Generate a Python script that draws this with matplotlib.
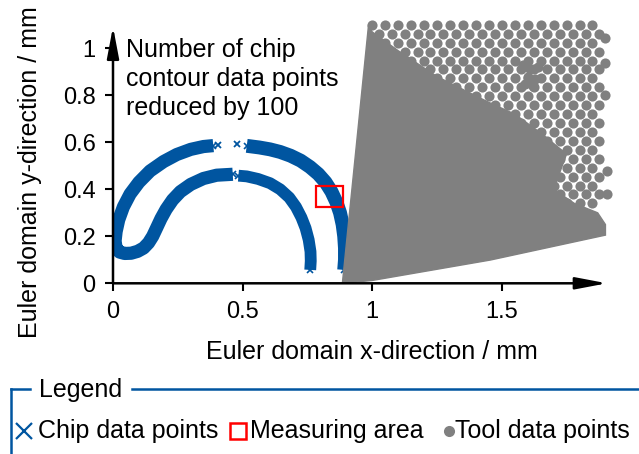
import matplotlib.pyplot as plt
from matplotlib.patches import Rectangle, Polygon
from matplotlib.lines import Line2D

plt.rcParams['font.family'] = ['Liberation Sans', 'DejaVu Sans']

BLUE = '#0055a0'
GREY = '#808080'

# chip contour (mm), traced along the middle of the point band
chip_outer_x = [0.892, 0.895, 0.895, 0.892, 0.886, 0.876, 0.862, 0.843, 0.820, 0.792,
                0.760, 0.724, 0.685, 0.645, 0.606, 0.565, 0.516]
chip_outer_y = [0.057, 0.100, 0.150, 0.200, 0.250, 0.300, 0.345, 0.390, 0.430, 0.465,
                0.495, 0.522, 0.543, 0.559, 0.570, 0.578, 0.585]

chip_loop_x = [0.387, 0.349, 0.300, 0.246, 0.195, 0.143, 0.100, 0.066, 0.040, 0.022,
               0.012, 0.008, 0.012, 0.025, 0.045, 0.070, 0.095, 0.118, 0.137, 0.153,
               0.168, 0.185, 0.205, 0.230, 0.260, 0.300, 0.349, 0.400, 0.462]
chip_loop_y = [0.586, 0.582, 0.570, 0.548, 0.518, 0.478, 0.430, 0.380, 0.325, 0.270,
               0.220, 0.180, 0.150, 0.133, 0.127, 0.128, 0.136, 0.150, 0.172, 0.200,
               0.235, 0.275, 0.315, 0.355, 0.390, 0.421, 0.446, 0.460, 0.464]

chip_inner_x = [0.484, 0.516, 0.560, 0.606, 0.645, 0.680, 0.706, 0.727, 0.743, 0.755,
                0.762, 0.763, 0.761]
chip_inner_y = [0.458, 0.455, 0.444, 0.426, 0.400, 0.365, 0.325, 0.280, 0.235, 0.185,
                0.135, 0.095, 0.057]

chip_single_x = [0.407, 0.477]
chip_single_y = [0.588, 0.591]

# measuring area (mm)
meas_x, meas_y = 0.784, 0.323
meas_w, meas_h = 0.103, 0.091

# tool: densely meshed part (outline) and the coarser nodes around it
tool_edge_x = [0.885, 0.986, 1.000, 1.100, 1.250, 1.450, 1.550, 1.650, 1.750, 1.700,
               1.780, 1.870, 1.900, 1.900, 1.456, 1.000]
tool_edge_y = [0.000, 1.100, 1.070, 0.990, 0.880, 0.770, 0.720, 0.640, 0.550, 0.400,
               0.340, 0.300, 0.250, 0.205, 0.099, 0.012]

tool_cols_a = [1.00, 1.05, 1.10, 1.15, 1.20, 1.25, 1.30, 1.35, 1.40, 1.45,
               1.50, 1.55, 1.60, 1.65, 1.70, 1.75, 1.80, 1.85]
tool_cols_b = [1.025, 1.075, 1.125, 1.175, 1.225, 1.275, 1.325, 1.375, 1.425, 1.475,
               1.525, 1.575, 1.625, 1.675, 1.725, 1.775, 1.825, 1.875]
tool_rows_y = [1.100, 1.062, 1.024, 0.986, 0.948, 0.910, 0.872, 0.834, 0.796, 0.758,
               0.720, 0.682, 0.644, 0.606, 0.568, 0.530, 0.492, 0.454, 0.416, 0.378, 0.340]
tool_rows_start = [1.00, 1.00, 1.03, 1.07, 1.13, 1.19, 1.24, 1.30, 1.36, 1.42,
                   1.49, 1.55, 1.60, 1.64, 1.68, 1.70, 1.68, 1.66, 1.65, 1.69, 1.74]

tool_extra_x = [1.900, 1.900, 1.900, 1.905, 1.906, 1.58, 1.61, 1.64, 1.60, 1.63, 1.59, 1.62]
tool_extra_y = [1.043, 0.938, 0.800, 0.480, 0.379, 0.93, 0.91, 0.92, 0.88, 0.87, 0.85, 0.84]

x_ticks = [0, 0.5, 1, 1.5]
x_ticklabels = ['0', '0.5', '1', '1.5']
y_ticks = [0, 0.2, 0.4, 0.6, 0.8, 1]
y_ticklabels = ['0', '0.2', '0.4', '0.6', '0.8', '1']

W, H = 639, 454


def fp(x, y):
    # figure fraction from pixel position (origin top left)
    return x / W, 1 - y / H


fig = plt.figure(figsize=(W / 100, H / 100), dpi=100)
ax = fig.add_axes([113 / W, 1 - 283.3 / H, (607 - 113) / W, (283.3 - 26.7) / H])
ax.set_xlim(0, 1.906)
ax.set_ylim(0, 1.092)

# chip
band = dict(color=BLUE, ms=5, mew=1.2, solid_capstyle='butt',
            solid_joinstyle='round', zorder=2)
ax.plot(chip_outer_x, chip_outer_y, '-x', lw=10, **band)
ax.plot(chip_loop_x, chip_loop_y, '-x', lw=9.5, **band)
ax.plot(chip_inner_x, chip_inner_y, '-x', lw=8.5, **band)
ax.plot(chip_single_x, chip_single_y, 'x', color=BLUE, ms=5, mew=1.3, zorder=2)

# tool
ax.add_patch(Polygon(list(zip(tool_edge_x, tool_edge_y)), closed=True,
                     facecolor=GREY, edgecolor=GREY, lw=1, zorder=3, clip_on=False))
dots_x, dots_y = [], []
for i, (ry, start) in enumerate(zip(tool_rows_y, tool_rows_start)):
    cols = tool_cols_a if i % 2 == 0 else tool_cols_b
    for cx in cols:
        if cx >= start:
            dots_x.append(cx)
            dots_y.append(ry)
ax.plot(dots_x, dots_y, 'o', color=GREY, ms=7.3, mew=0, zorder=3, clip_on=False)
ax.plot(tool_extra_x, tool_extra_y, 'o', color=GREY, ms=7.3, mew=0, zorder=3, clip_on=False)

# measuring area
ax.add_patch(Rectangle((meas_x, meas_y), meas_w, meas_h, fill=False,
                       edgecolor='#ff0000', lw=1.6, zorder=4))

# axes drawn as arrows
for s in ax.spines.values():
    s.set_visible(False)
arrow = dict(arrowstyle='-|>,head_length=1.9,head_width=0.36', lw=1.8,
             color='black', shrinkA=0, shrinkB=0, mutation_scale=10)
ax.annotate('', xy=(1, 0), xytext=(0, 0), xycoords='axes fraction',
            arrowprops=arrow, annotation_clip=False, zorder=5)
ax.annotate('', xy=(0, 1), xytext=(0, 0), xycoords='axes fraction',
            arrowprops=arrow, annotation_clip=False, zorder=5)

ax.set_xticks(x_ticks)
ax.set_xticklabels(x_ticklabels)
ax.set_yticks(y_ticks)
ax.set_yticklabels(y_ticklabels)
ax.tick_params(direction='out', length=5.5, width=1.5, labelsize=17, pad=7)

fig.text(*fp(372, 352), 'Euler domain x-direction / mm', fontsize=18,
         ha='center', va='center')
fig.text(*fp(30, 172), 'Euler domain y-direction / mm', fontsize=18,
         ha='center', va='center', rotation=90)
fig.text(*fp(126, 38), 'Number of chip\ncontour data points\nreduced by 100',
         fontsize=18, ha='left', va='top', linespacing=1.25)

# legend frame
fig.add_artist(Line2D([11 / W, 30 / W], [1 - 389 / H] * 2, color=BLUE, lw=1.8,
                      transform=fig.transFigure))
fig.add_artist(Line2D([132 / W, 1], [1 - 389 / H] * 2, color=BLUE, lw=1.8,
                      transform=fig.transFigure))
fig.add_artist(Line2D([11 / W, 11 / W], [1 - 389 / H, 0], color=BLUE, lw=1.8,
                      transform=fig.transFigure))
fig.text(*fp(39, 390), 'Legend', fontsize=18, ha='left', va='center')

ly = 431
fig.add_artist(Line2D([24 / W], [1 - ly / H], marker='x', ms=12, mew=1.6,
                      color=BLUE, transform=fig.transFigure))
fig.text(*fp(38, ly), 'Chip data points', fontsize=18, ha='left', va='center')
fig.add_artist(Line2D([238 / W], [1 - ly / H], marker='s', ms=11, mew=1.8,
                      mfc='none', mec='#ff0000', transform=fig.transFigure))
fig.text(*fp(250, ly), 'Measuring area', fontsize=18, ha='left', va='center')
fig.add_artist(Line2D([448.5 / W], [1 - ly / H], marker='o', ms=8, mew=0,
                      color=GREY, transform=fig.transFigure))
fig.text(*fp(455, ly), 'Tool data points', fontsize=18, ha='left', va='center')

fig.savefig('out.png', dpi=100)
